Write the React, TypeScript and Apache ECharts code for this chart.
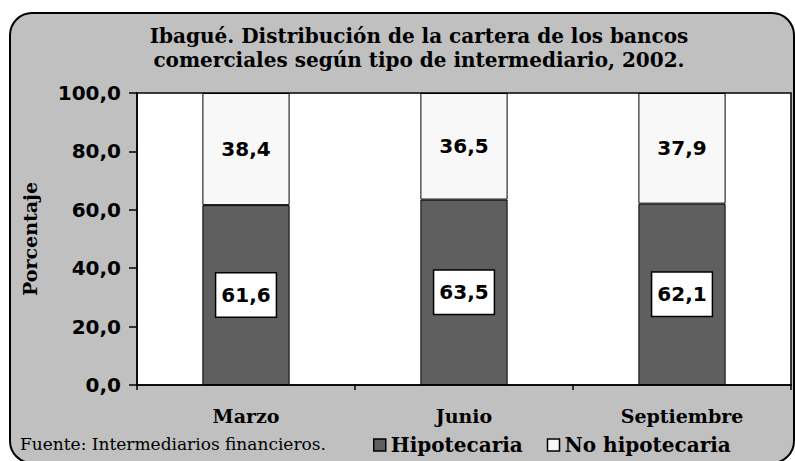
import React, { useEffect, useRef } from "react";
import * as echarts from "echarts";

const categories = ["Marzo", "Junio", "Septiembre"];
const hipotecaria = [61.6, 63.5, 62.1];
const noHipotecaria = [38.4, 36.5, 37.9];
const titleLines = [
  "Ibagué. Distribución de la cartera de los bancos",
  "comerciales según tipo de intermediario, 2002.",
];
const sourceNote = "Fuente: Intermediarios financieros.";

const fmt = (v: number) => v.toFixed(1).replace(".", ",");

export default function App() {
  const ref = useRef<HTMLDivElement>(null);
  useEffect(() => {
    if (!ref.current) return;
    document.body.style.margin = "0";
    const chart = echarts.init(ref.current, undefined, { renderer: "svg" });
    chart.setOption({
      animation: false,
      backgroundColor: "#ffffff",
      title: {
        text: titleLines.join("\n"),
        left: 414,
        textAlign: "center",
        top: 19,
        textStyle: {
          fontFamily: "DejaVu Serif",
          fontWeight: "bold",
          fontSize: 20,
          lineHeight: 24,
          color: "#000",
        },
      },
      graphic: [
        {
          type: "rect",
          z: -10,
          silent: true,
          shape: { x: 10, y: 13, width: 784, height: 450, r: 22 },
          style: { fill: "#c0c0c0", stroke: "#000", lineWidth: 2 },
        },
        {
          type: "text",
          x: 20,
          y: 444,
          style: {
            text: sourceNote,
            fontFamily: "DejaVu Serif",
            fontSize: 17,
            fill: "#000",
            verticalAlign: "middle",
          },
        },
      ],
      legend: {
        left: 368,
        top: 430,
        icon: "rect",
        itemWidth: 12,
        itemHeight: 12,
        itemGap: 24,
        data: [
          { name: "Hipotecaria", itemStyle: { color: "#5f5f5f", borderColor: "#000", borderWidth: 1.5 } },
          { name: "No hipotecaria", itemStyle: { color: "#f8f8f8", borderColor: "#000", borderWidth: 1.5 } },
        ],
        textStyle: {
          fontFamily: "DejaVu Serif",
          fontWeight: "bold",
          fontSize: 20,
          color: "#000",
        },
      },
      grid: {
        left: 137,
        right: 4,
        top: 93,
        bottom: 76,
        show: true,
        backgroundColor: "#ffffff",
        borderColor: "#000",
        borderWidth: 1.5,
      },
      xAxis: {
        type: "category",
        data: categories,
        axisLine: { lineStyle: { color: "#000", width: 1.5 } },
        axisTick: { show: true, length: 5, lineStyle: { color: "#000", width: 1.5 } },
        axisLabel: {
          margin: 21,
          fontFamily: "DejaVu Serif",
          fontWeight: "bold",
          fontSize: 19,
          color: "#000",
        },
      },
      yAxis: {
        type: "value",
        min: 0,
        max: 100,
        interval: 20,
        name: "Porcentaje",
        nameLocation: "middle",
        nameGap: 98,
        nameTextStyle: {
          fontFamily: "DejaVu Serif",
          fontWeight: "bold",
          fontSize: 19,
          color: "#000",
        },
        axisLine: { show: true, lineStyle: { color: "#000", width: 1.5 } },
        axisTick: { show: true, length: 8, lineStyle: { color: "#000", width: 1.5 } },
        splitLine: { show: false },
        axisLabel: {
          margin: 16,
          fontFamily: "DejaVu Sans",
          fontWeight: "bold",
          fontSize: 20,
          color: "#000",
          formatter: (v: number) => fmt(v),
        },
      },
      series: [
        {
          name: "Hipotecaria",
          type: "bar",
          stack: "total",
          barWidth: "40%",
          data: hipotecaria,
          itemStyle: { color: "#5f5f5f", borderColor: "#000", borderWidth: 1 },
          label: {
            show: true,
            position: "inside",
            formatter: (p: any) => fmt(p.value),
            fontFamily: "DejaVu Sans",
            fontWeight: "bold",
            fontSize: 20,
            color: "#000",
            backgroundColor: "#ffffff",
            borderColor: "#000",
            borderWidth: 1.5,
            padding: [12, 5, 11, 5],
          },
        },
        {
          name: "No hipotecaria",
          type: "bar",
          stack: "total",
          barWidth: "40%",
          data: noHipotecaria,
          itemStyle: { color: "#f8f8f8", borderColor: "#000", borderWidth: 1 },
          label: {
            show: true,
            position: "inside",
            formatter: (p: any) => fmt(p.value),
            fontFamily: "DejaVu Sans",
            fontWeight: "bold",
            fontSize: 20,
            color: "#000",
          },
        },
      ],
    });
    return () => chart.dispose();
  }, []);
  return <div ref={ref} style={{ width: 795, height: 461 }} />;
}
